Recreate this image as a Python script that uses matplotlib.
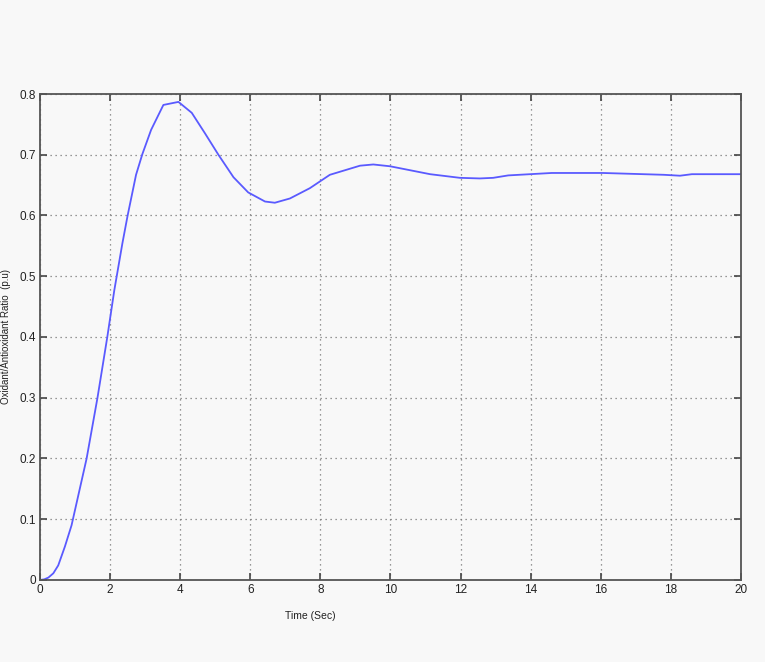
import numpy as np
import matplotlib.pyplot as plt

# curve
t = [0, 0.12, 0.24, 0.38, 0.52, 0.71, 0.90, 1.33, 1.64, 1.92, 2.12, 2.35, 2.50,
     2.74, 2.92, 3.17, 3.52, 3.95, 4.33, 4.71, 5.09, 5.52, 5.94, 6.42, 6.70,
     7.13, 7.70, 8.27, 9.13, 9.51, 9.99, 11.13, 11.98, 12.55, 12.93, 13.36,
     14.6, 16.06, 17.8, 18.26, 18.6, 20]
ratio = [0, 0.001, 0.004, 0.011, 0.024, 0.055, 0.09, 0.20, 0.30, 0.40, 0.477,
         0.554, 0.600, 0.667, 0.701, 0.741, 0.782, 0.787, 0.769, 0.735, 0.700,
         0.663, 0.638, 0.623, 0.621, 0.628, 0.645, 0.667, 0.682, 0.684, 0.681,
         0.668, 0.662, 0.661, 0.662, 0.666, 0.670, 0.670, 0.667, 0.6655, 0.668,
         0.668]

plt.rcParams['font.family'] = ['Liberation Sans', 'DejaVu Sans']
bg = '#f8f8f8'
fig = plt.figure(figsize=(7.65, 6.62), dpi=100, facecolor=bg)
ax = fig.add_axes([0.0523, 0.1239, 0.9163, 0.7341], facecolor=bg)

ax.plot(t, ratio, color='#5a5aff', lw=1.3)

ax.set_xlim(0, 20)
ax.set_ylim(0, 0.8)
ax.set_xticks(np.arange(0, 21, 2))
ax.set_yticks(np.arange(0, 0.81, 0.1))
ax.set_xticklabels([str(v) for v in range(0, 21, 2)])
ax.set_yticklabels(['0'] + ['%.1f' % v for v in np.arange(0.1, 0.81, 0.1)])
ax.grid(True, linestyle=(0, (1, 3)), color='#777777', lw=0.9)
ax.tick_params(direction='in', length=5, width=1.2, color='#444444',
               labelsize=8.5, top=True, right=True, pad=3, labelcolor='#222222')
for s in ax.spines.values():
    s.set_color('#555555')
    s.set_linewidth(1.3)

ax.set_xlabel('Time (Sec)', fontsize=7.5, color='#222222')
ax.xaxis.set_label_coords(0.385, -0.063)
ax.set_ylabel('Oxidant/Antioxidant Ratio  (p.u)', fontsize=7, labelpad=6, color='#222222')

fig.savefig('out.png', dpi=100, facecolor=bg)
